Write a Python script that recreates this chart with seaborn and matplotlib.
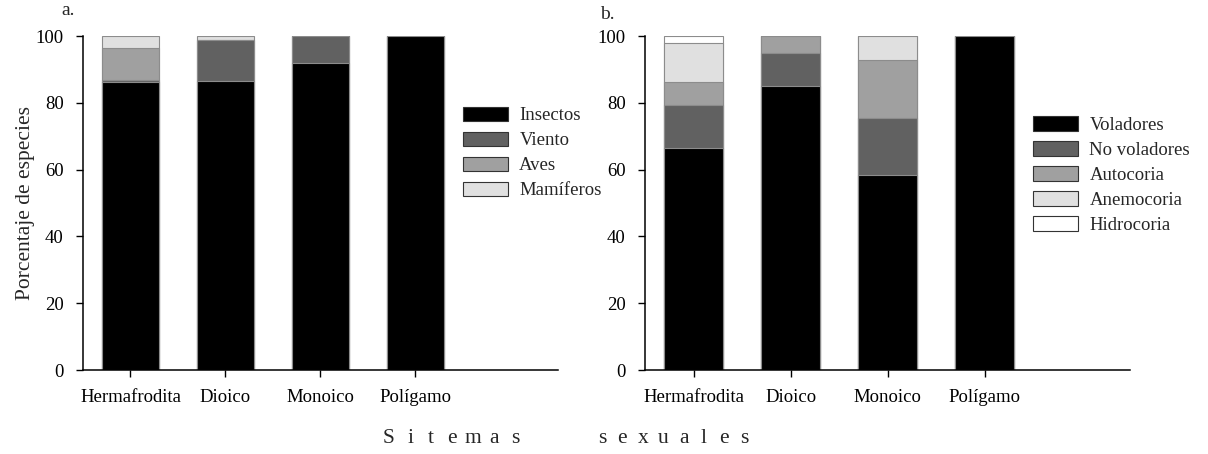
import matplotlib
matplotlib.use("Agg")
import matplotlib.pyplot as plt
from matplotlib.patches import Patch
import numpy as np
import pandas as pd
import seaborn as sns

# Sexual systems (x categories)
sistemas = ["Hermafrodita", "Dioico", "Monoico", "Polígamo"]

# a. Pollination vectors (% of species)
polinizacion_series = ["Insectos", "Viento", "Aves", "Mamíferos"]
insectos = [86.3, 86.5, 92.0, 100.0]
viento = [0.6, 12.3, 8.0, 0.0]
aves = [9.6, 0.0, 0.0, 0.0]
mamiferos = [3.5, 1.2, 0.0, 0.0]

# b. Dispersal modes (% of species)
dispersion_series = ["Voladores", "No voladores", "Autocoria", "Anemocoria", "Hidrocoria"]
voladores = [66.5, 85.0, 58.5, 100.0]
no_voladores = [12.7, 10.0, 17.1, 0.0]
autocoria = [7.0, 5.0, 17.2, 0.0]
anemocoria = [11.8, 0.0, 7.2, 0.0]
hidrocoria = [2.0, 0.0, 0.0, 0.0]

colores = ["#000000", "#616161", "#a0a0a0", "#e0e0e0", "#ffffff"]

sns.set_theme(style="ticks")
plt.rcParams["font.family"] = ["Liberation Serif", "DejaVu Serif"]
plt.rcParams["axes.linewidth"] = 1.1

fig = plt.figure(figsize=(12.08, 4.54), dpi=100)
ax_a = fig.add_axes([0.0687, 0.185, 0.3932, 0.7357])
ax_b = fig.add_axes([0.534, 0.185, 0.4015, 0.7357])

FS = 13.5


def stacked(ax, names, values, legend_anchor):
    df = pd.DataFrame({n: v for n, v in zip(names, values)}, index=sistemas)
    cum = df.cumsum(axis=1)
    # draw from the top layer down so lower layers overlay the upper totals
    for i in range(len(names) - 1, -1, -1):
        d = pd.DataFrame({"sistema": sistemas, "valor": cum[names[i]].values})
        sns.barplot(data=d, x="sistema", y="valor", order=sistemas, color=colores[i],
                    saturation=1, width=0.6, edgecolor="#8c8c8c", linewidth=0.8,
                    ax=ax, errorbar=None)
    ax.set_xlim(-0.5, 4.5)
    ax.set_ylim(0, 100)
    ax.set_yticks([0, 20, 40, 60, 80, 100])
    ax.set_xlabel("")
    ax.set_ylabel("")
    ax.tick_params(axis="both", labelsize=FS, length=5, width=1.0, color="black",
                   labelcolor="black", direction="out")
    ax.tick_params(axis="x", pad=9)
    ax.tick_params(axis="y", pad=9)
    sns.despine(ax=ax)
    for s in ("left", "bottom"):
        ax.spines[s].set_color("black")
    handles = [Patch(facecolor=colores[i], edgecolor="#333333", linewidth=0.8, label=n)
               for i, n in enumerate(names)]
    ax.legend(handles=handles, loc="upper left", bbox_to_anchor=legend_anchor,
              bbox_transform=fig.transFigure, frameon=False, fontsize=FS,
              handlelength=2.4, handleheight=0.8, handletextpad=0.62,
              labelspacing=0.39, borderaxespad=0, borderpad=0)


stacked(ax_a, polinizacion_series, [insectos, viento, aves, mamiferos], (0.383, 0.765))
stacked(ax_b, dispersion_series, [voladores, no_voladores, autocoria, anemocoria, hidrocoria],
        (0.855, 0.744))

ax_a.set_ylabel("Porcentaje de especies", fontsize=15.5, labelpad=0)

fig.text(0.051, 0.976, "a.", fontsize=14, ha="left", va="center")
fig.text(0.497, 0.968, "b.", fontsize=14, ha="left", va="center")

# spaced-out shared x-axis title, one letter at a time
palabras = ["Sitemas", "sexuales"]
inicio_px = [389, 602]
paso_px = [21.0, 20.4]
for palabra, x0, paso in zip(palabras, inicio_px, paso_px):
    for k, letra in enumerate(palabra):
        fig.text((x0 + k * paso) / 1208, 0.034, letra, fontsize=15.5,
                 ha="center", va="center")

fig.savefig("out.png", dpi=100)
